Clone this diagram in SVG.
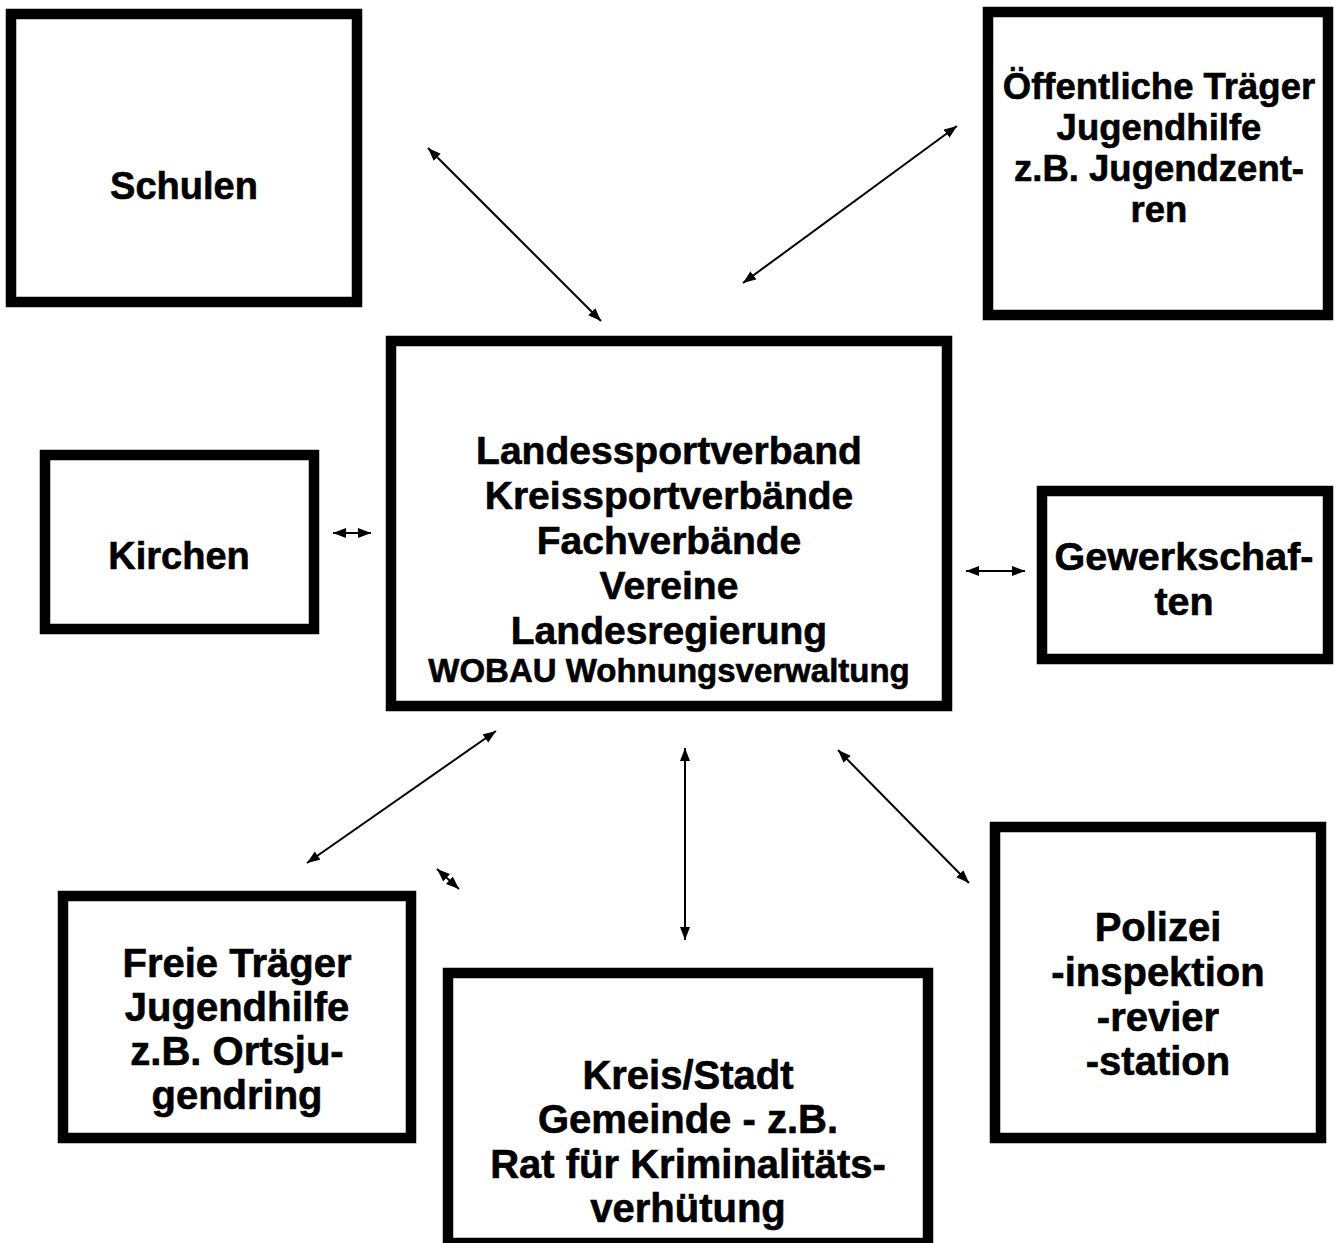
<svg xmlns="http://www.w3.org/2000/svg" width="1341" height="1243" viewBox="0 0 1341 1243">
<style>
.box{fill:#fff;stroke:#000;stroke-width:10.5}
.t{font-family:"Liberation Sans",Arial,sans-serif;font-weight:bold;font-size:38px;fill:#000;stroke:#000;stroke-width:0.6;text-anchor:middle}
.c{font-size:39px}
.s{font-size:33px}
.l{font-size:40px}
.o{font-size:36.5px}
.g{font-size:39.5px}
.con{stroke:#000;stroke-width:2;fill:none;marker-start:url(#ah);marker-end:url(#ah)}
</style>
<defs>
<marker id="ah" markerUnits="userSpaceOnUse" markerWidth="14" markerHeight="11" refX="13" refY="5" orient="auto-start-reverse" viewBox="0 0 14 11">
<path d="M0,0 L13,5 L0,10 z" fill="#000"/>
</marker>
</defs>
<rect width="1341" height="1243" fill="#fff"/>
<g id="connectors">
<line class="con" x1="428" y1="148" x2="601" y2="321"/>
<line class="con" x1="957" y1="126" x2="743" y2="283"/>
<line class="con" x1="333" y1="533" x2="371" y2="533"/>
<line class="con" x1="966" y1="571" x2="1025" y2="571"/>
<line class="con" x1="496" y1="731" x2="307" y2="863"/>
<line class="con" x1="437" y1="869" x2="459" y2="889"/>
<line class="con" x1="685" y1="748" x2="685" y2="940"/>
<line class="con" x1="838" y1="750" x2="969" y2="883"/>
</g>
<g id="schulen">
<rect class="box" x="11" y="14" width="346" height="288"/>
<text class="t" x="184" y="199">Schulen</text>
</g>
<g id="oeffentliche">
<rect class="box" x="988" y="12" width="340" height="303"/>
<text class="t o" x="1159" y="99">Öffentliche Träger</text>
<text class="t o" x="1159" y="140">Jugendhilfe</text>
<text class="t o" x="1159" y="181">z.B. Jugendzent-</text>
<text class="t o" x="1159" y="222">ren</text>
</g>
<g id="zentrum">
<rect class="box" x="391" y="341" width="556" height="365"/>
<text class="t c" x="669" y="464">Landessportverband</text>
<text class="t c" x="669" y="509">Kreissportverbände</text>
<text class="t c" x="669" y="554">Fachverbände</text>
<text class="t c" x="669" y="599">Vereine</text>
<text class="t c" x="669" y="644">Landesregierung</text>
<text class="t s" x="669" y="682">WOBAU Wohnungsverwaltung</text>
</g>
<g id="kirchen">
<rect class="box" x="45" y="455" width="269" height="174"/>
<text class="t" x="179" y="569">Kirchen</text>
</g>
<g id="gewerkschaften">
<rect class="box" x="1042" y="491" width="286" height="168"/>
<text class="t g" x="1184" y="570">Gewerkschaf-</text>
<text class="t g" x="1184" y="615">ten</text>
</g>
<g id="freie">
<rect class="box" x="63" y="896" width="348" height="242"/>
<text class="t l" x="237" y="977">Freie Träger</text>
<text class="t l" x="237" y="1021">Jugendhilfe</text>
<text class="t l" x="237" y="1065">z.B. Ortsju-</text>
<text class="t l" x="237" y="1109">gendring</text>
</g>
<g id="kreis">
<rect class="box" x="448" y="973" width="480" height="270"/>
<text class="t l" x="688" y="1089">Kreis/Stadt</text>
<text class="t l" x="688" y="1133">Gemeinde - z.B.</text>
<text class="t l" x="688" y="1178">Rat für Kriminalitäts-</text>
<text class="t l" x="688" y="1222">verhütung</text>
</g>
<g id="polizei">
<rect class="box" x="995" y="827" width="326" height="311"/>
<text class="t l" x="1158" y="941">Polizei</text>
<text class="t l" x="1158" y="986">-inspektion</text>
<text class="t l" x="1158" y="1031">-revier</text>
<text class="t l" x="1158" y="1075">-station</text>
</g>
</svg>
